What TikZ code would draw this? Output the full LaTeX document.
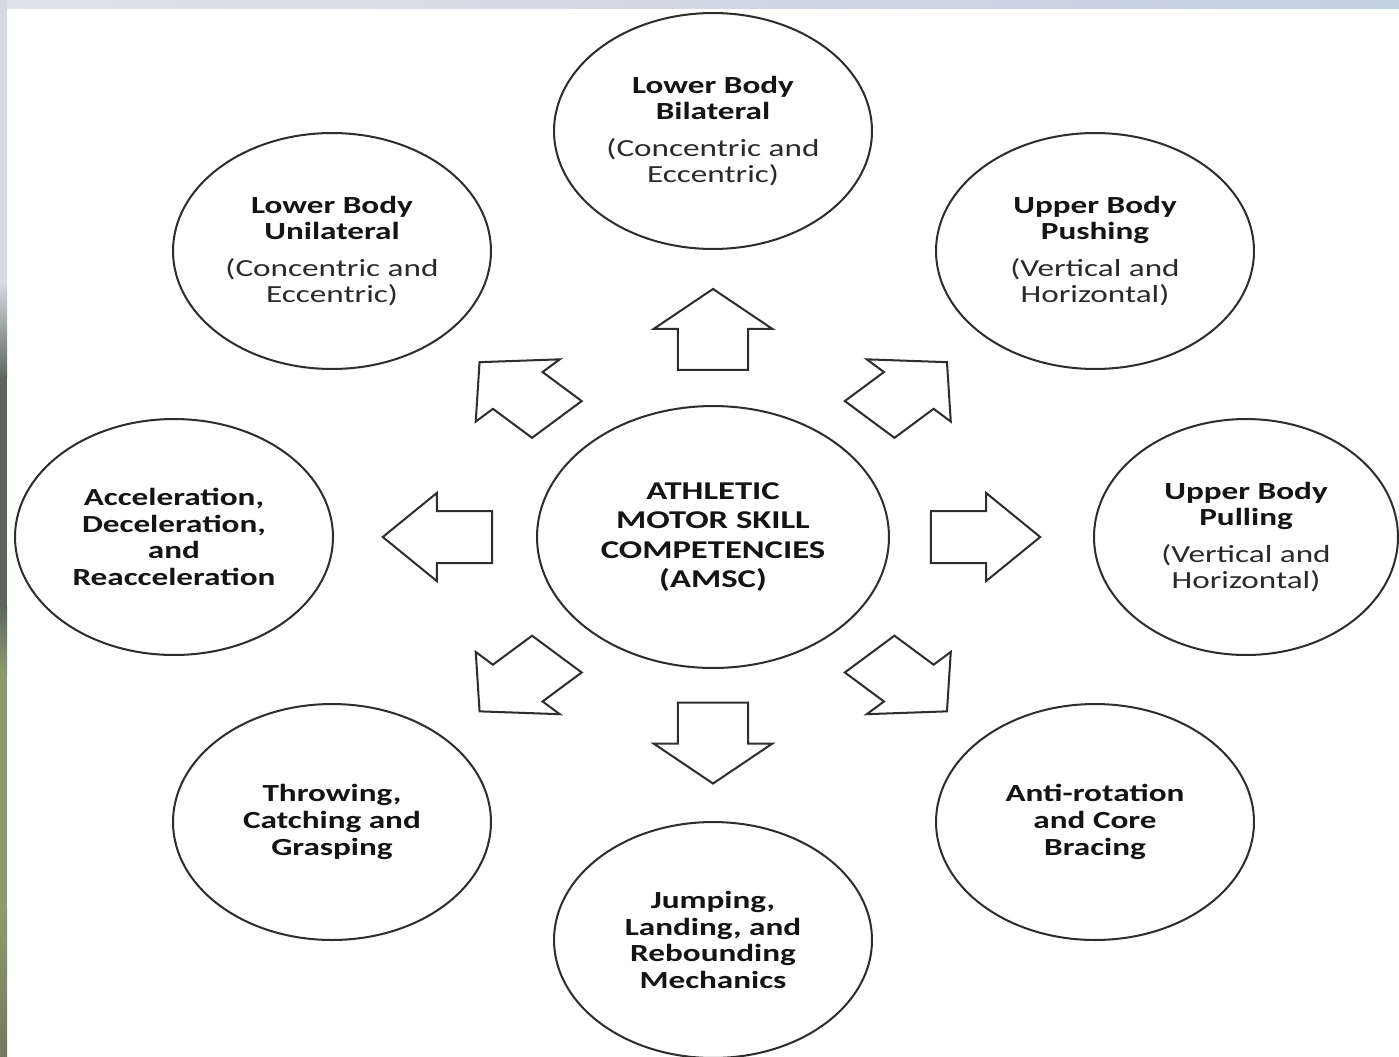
\documentclass[tikz,border=0pt]{standalone}
\usepackage{fontspec}
\setmainfont{Carlito}[FakeStretch=1.35]
\usepackage{tikz}
\usepackage{xcolor}
\usetikzlibrary{shapes,calc,positioning}

\definecolor{linegray}{HTML}{2E2E2E}
\definecolor{subgray}{HTML}{2A2A2A}
\definecolor{barleft}{HTML}{DFE2E8}
\definecolor{barright}{HTML}{C3CFE2}
\definecolor{stripL}{HTML}{D6D9DF}
\definecolor{stripA}{HTML}{60665F}
\definecolor{stripB}{HTML}{8E9A6B}
\definecolor{stripC}{HTML}{737A5C}
\newcommand{\subline}[1]{{\mdseries\color{subgray}#1}}

\begin{document}
\begin{tikzpicture}[x=0.02cm,y=-0.02cm]
\tikzset{skill/.style={ellipse,draw=linegray,line width=1.15pt,minimum width=6.36cm,minimum height=4.72cm,inner sep=0pt,align=center,text=black!92,font=\fontsize{14}{15.2}\selectfont\bfseries}}
\tikzset{blockarrow/.style={draw=linegray,line width=1.15pt,line join=miter}}
\useasboundingbox (0,0) rectangle (1399,1056);
% frame
\fill[white] (0,0) rectangle (1399,1056);
\shade[left color=barleft,right color=barright] (0,0) rectangle (1399,8);
\fill[stripL] (0,0) rectangle (7,283);
\shade[top color=stripL,bottom color=stripA] (0,283) rectangle (7,377);
\fill[stripA] (0,377) rectangle (7,606);
\shade[top color=stripA,bottom color=stripB] (0,606) rectangle (7,673);
\fill[stripB] (0,673) rectangle (7,909);
\shade[top color=stripB,bottom color=stripC] (0,909) rectangle (7,1056);
% circles
\node[skill,font=\fontsize{14.6}{16.6}\selectfont\bfseries,minimum width=7.04cm,minimum height=5.24cm](amsc) at (713,537) {ATHLETIC\\MOTOR SKILL\\COMPETENCIES\\(AMSC)};
\node[skill](lbb) at (713,131) {Lower Body\\Bilateral\\[5.5pt]\subline{(Concentric and}\\\subline{Eccentric)}};
\node[skill](lbu) at (332,251) {Lower Body\\Unilateral\\[5.5pt]\subline{(Concentric and}\\\subline{Eccentric)}};
\node[skill](ubpush) at (1095,251) {Upper Body\\Pushing\\[5.5pt]\subline{(Vertical and}\\\subline{Horizontal)}};
\node[skill](acc) at (174,537) {Acceleration,\\Deceleration,\\and\\Reacceleration};
\node[skill,minimum width=6.08cm](ubpull) at (1246,537) {Upper Body\\Pulling\\[5.5pt]\subline{(Vertical and}\\\subline{Horizontal)}};
\node[skill](throw) at (332,822) {Throwing,\\Catching and\\Grasping};
\node[skill](anti) at (1095,822) {Anti-rotation\\and Core\\Bracing};
\node[skill](jump) at (713,940) {Jumping,\\Landing, and\\Rebounding\\Mechanics};
% block arrows
\foreach \target/\ang in {lbb/90,ubpush/45,ubpull/0,anti/-45,jump/-90,throw/-135,acc/180,lbu/135}
  \draw[blockarrow,shift={($(amsc)!0.51!(\target)$)},xscale=1.35,rotate=\ang]
    (-40,-26) -- (1,-26) -- (1,-44) -- (41,0) -- (1,44) -- (1,26) -- (-40,26) -- cycle;
\end{tikzpicture}
\end{document}
